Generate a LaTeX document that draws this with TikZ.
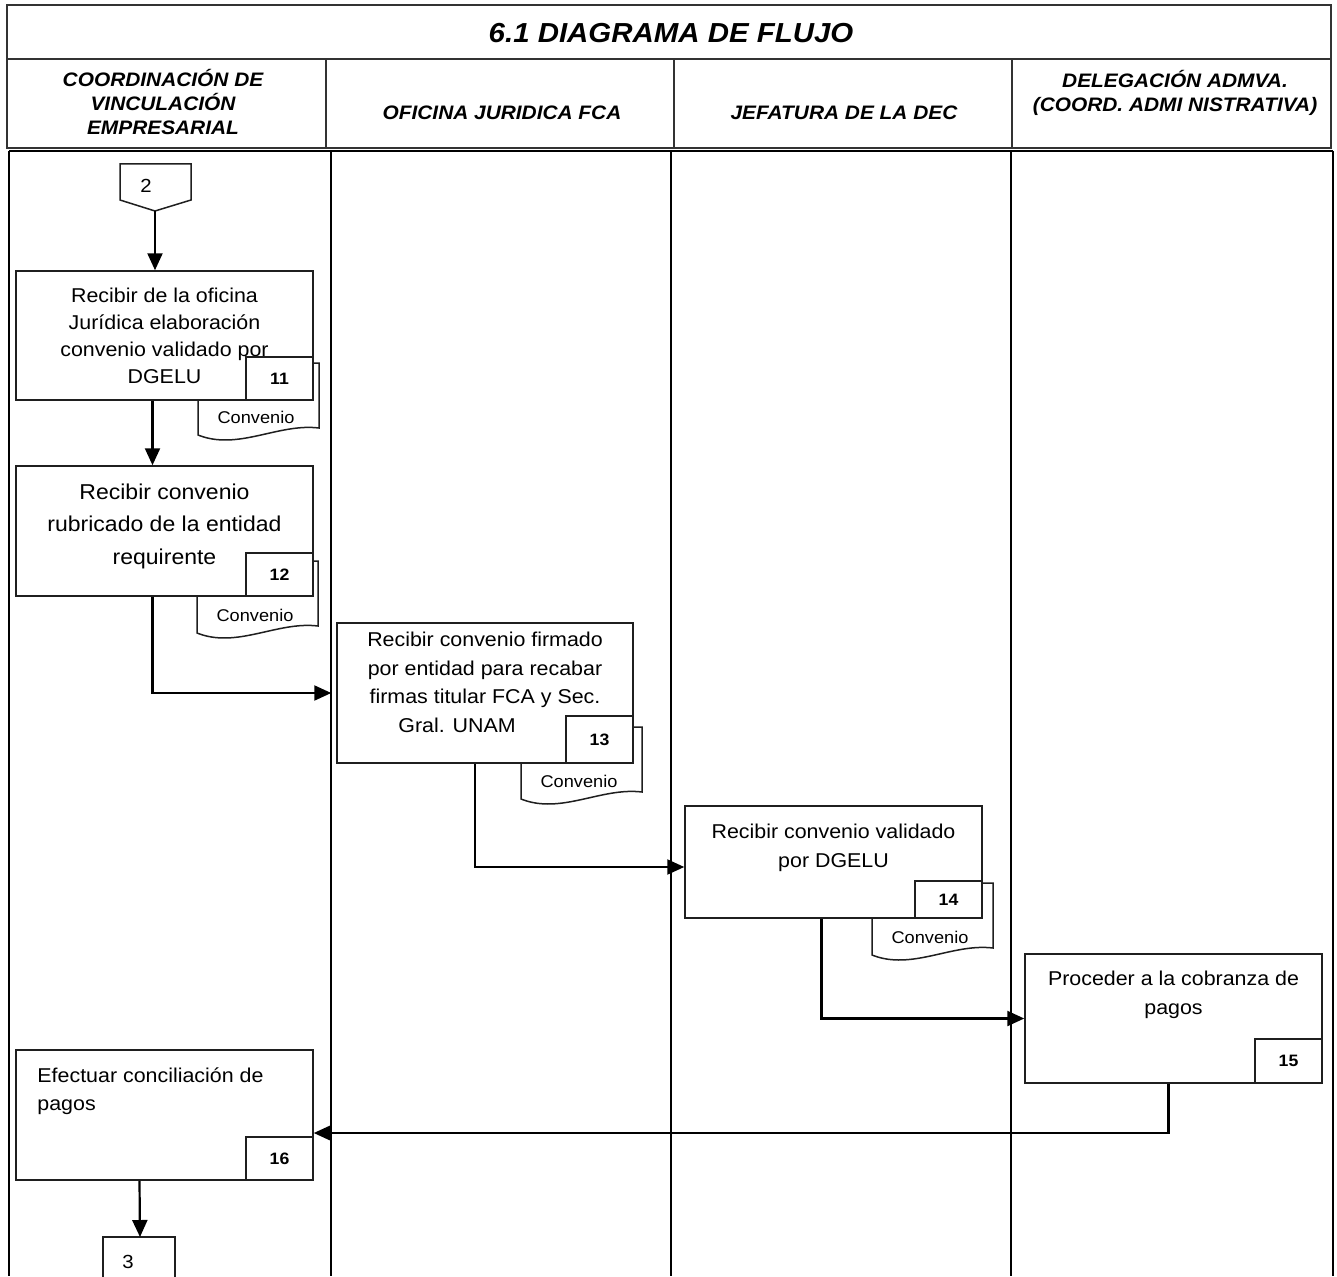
\documentclass[tikz,border=0pt]{standalone}
\usepackage{fontspec}
\setmainfont[FakeStretch=1.07]{Liberation Sans}
\usetikzlibrary{arrows.meta, positioning}
\definecolor{line-dark}{HTML}{1F1F1F}
\definecolor{grid-dark}{HTML}{333333}

% document symbol with "Convenio": #1 name, #2 left x, #3 top y
\newcommand{\convdoc}[3]{%
  \draw[docline] (#2,#3) -- (#2,#3+72)
    .. controls (#2+40,#3+88) and (#2+80,#3+60) .. (#2+121,#3+65)
    -- (#2+121,#3) -- cycle;
  \node[doctxt] (#1) at (#2+58,#3+54) {Convenio};}

\begin{document}
\begin{tikzpicture}[x=1pt, y=-1pt,
    grid/.style={line width=2pt, draw=grid-dark},
    lane/.style={line width=2.4pt, draw=black},
    proc/.style={draw=line-dark, line width=1.5pt, fill=white,
      minimum width=297pt, inner sep=0pt},
    numbox/.style={draw=line-dark, line width=1.5pt, fill=white,
      minimum width=67pt, minimum height=43pt, inner sep=0pt,
      font=\fontsize{16.5}{18}\selectfont\bfseries},
    docline/.style={draw=line-dark, line width=1.5pt, fill=white},
    doctxt/.style={inner sep=0pt, font=\fontsize{17}{20}\selectfont},
    txt/.style={align=center, inner sep=0pt,
      font=\fontsize{20}{28.5}\selectfont},
    head/.style={align=center, inner sep=0pt,
      font=\fontsize{19.5}{24}\selectfont\bfseries\itshape},
    flow/.style={line width=2.2pt, -{Triangle[length=17pt,width=15pt]}}]
  \useasboundingbox (0,0) rectangle (1337,1276);
  % Layout: 1pt = 1px of the sheet, y grows downwards.
  %   header table y=5..148 (title row to y=59), four lanes below y=151,
  %   lane borders at x = 9, 331, 671, 1011, 1333.

  % -- header table
  \draw[grid] (7,5) rectangle (1331,148);
  \draw[grid] (7,59) -- (1331,59);
  \foreach \x in {326,674,1012}
    \draw[grid] (\x,59) -- (\x,148);
  \node[inner sep=0pt, font=\fontsize{27.5}{30}\selectfont\bfseries\itshape]
    (title) at (671,33) {6.1 DIAGRAMA DE FLUJO};
  \foreach \i/\x/\y/\lab in {1/163/102/{COORDINACIÓN DE\\VINCULACIÓN\\EMPRESARIAL},
      2/502/113/{OFICINA JURIDICA FCA}, 3/844/113/{JEFATURA DE LA DEC},
      4/1175/93/{DELEGACIÓN ADMVA.\\(COORD. ADMI NISTRATIVA)}}
    \node[head] (lane\i) at (\x,\y) {\lab};

  % -- swim lanes
  \draw[lane] (9,151) -- (1333,151);
  \foreach \x in {9,331,671,1011,1333}
    \draw[lane] (\x,151) -- (\x,1276);

  % -- off-page connector 2
  \draw[line width=1.5pt, draw=line-dark]
    (120,164) -- (191,164) -- (191,200) -- (155,211) -- (120,200) -- cycle;
  \node[doctxt, font=\fontsize{19}{20}\selectfont] (off2) at (146,186) {2};
  \coordinate (off2tip) at (155,211);

  % -- step 11
  \convdoc{d11}{198}{363}
  \node[proc, minimum height=129pt] (b11) at (164.5,335.5) {};
  \node[txt, font=\fontsize{20}{27}\selectfont, below=18pt of b11.north] (t11)
    {Recibir de la oficina\\Jurídica elaboración\\convenio validado por\\DGELU};
  \node[numbox, anchor=south east] (n11) at (b11.south east) {11};

  % -- step 12
  \convdoc{d12}{197}{561}
  \node[proc, minimum height=130pt] (b12) at (164.5,531) {};
  \node[txt, font=\fontsize{21.5}{32.5}\selectfont, below=18pt of b12.north] (t12)
    {Recibir convenio\\rubricado de la entidad\\requirente};
  \node[numbox, anchor=south east] (n12) at (b12.south east) {12};

  % -- step 13
  \convdoc{d13}{521}{727}
  \node[proc, minimum width=296pt, minimum height=140pt] (b13) at (485,693) {};
  \node[txt, below=10pt of b13.north] (t13)
    {Recibir convenio firmado\\por entidad para recabar\\firmas titular FCA y Sec.\\Gral. UNAM\hspace*{56pt}};
  \node[numbox, minimum height=47pt, anchor=south east] (n13) at (b13.south east) {13};

  % -- step 14
  \convdoc{d14}{872}{883}
  \node[proc, minimum height=112pt] (b14) at (833.5,862) {};
  \node[txt, below=19pt of b14.north] (t14)
    {Recibir convenio validado\\por DGELU};
  \node[numbox, minimum height=37pt, anchor=south east] (n14) at (b14.south east) {14};

  % -- step 15
  \node[proc, minimum height=129pt] (b15) at (1173.5,1018.5) {};
  \node[txt, below=18pt of b15.north] (t15)
    {Proceder a la cobranza de\\pagos};
  \node[numbox, minimum height=44pt, anchor=south east] (n15) at (b15.south east) {15};

  % -- step 16
  \node[proc, minimum height=130pt] (b16) at (164.5,1115) {};
  \node[txt, align=left, below right=18pt and 22pt of b16.north west] (t16)
    {Efectuar conciliación de\\pagos};
  \node[numbox, anchor=south east] (n16) at (b16.south east) {16};

  % -- off-page connector 3
  \draw[line width=1.5pt, draw=line-dark]
    (103,1280) -- (103,1237) -- (175,1237) -- (175,1280);
  \node[doctxt, font=\fontsize{19}{20}\selectfont] (off3) at (128,1262) {3};
  \coordinate (off3top) at (140,1237);

  % -- flow
  \draw[flow] (off2tip) -- (off2tip |- b11.north);
  \draw[flow] ([xshift=-12pt]b11.south) -- ([xshift=-12pt]b12.north);
  \draw[flow, shorten >=5pt] ([xshift=-12pt]b12.south) |- (b13.west);
  \draw[flow] ([xshift=-10pt]b13.south) |- ([yshift=-5pt]b14.west);
  \draw[flow] ([xshift=-12pt]b14.south) |- (b15.west);
  \draw[flow] ([xshift=-5pt]b15.south) |- ([yshift=-18pt]b16.east);
  \draw[flow] ([xshift=-25pt]b16.south) -- (off3top);
\end{tikzpicture}
\end{document}
